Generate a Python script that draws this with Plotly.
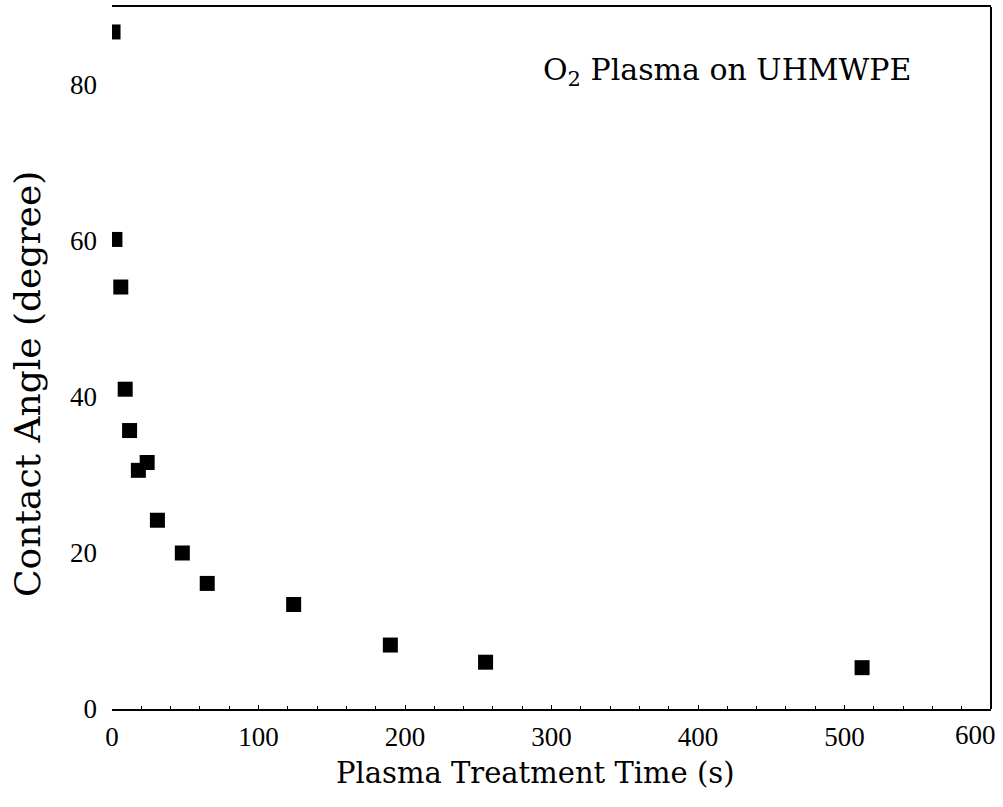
import plotly.graph_objects as go

time_s = [0.7, 2, 6, 9, 12, 18, 24, 31, 48, 65, 124, 190, 255, 512]
contact_angle = [86.8, 60.2, 54.1, 41.0, 35.7, 30.6, 31.6, 24.2, 20.0, 16.1, 13.4, 8.2, 6.0, 5.3]
x_ticks = [0, 100, 200, 300, 400, 500, 600]
y_ticks = [0, 20, 40, 60, 80]

TICKFONT = "Liberation Serif"
TITLEFONT = "DejaVu Serif"

L, R, T, B = 112, 991, 5, 709
W, H = 1003, 807
PW, PH = R - L, B - T

fig = go.Figure()
fig.add_trace(go.Scatter(
    x=time_s, y=contact_angle, mode="markers",
    marker=dict(symbol="square", size=15, color="black", line=dict(width=0)),
    cliponaxis=True, showlegend=False,
))

inner_ticks = x_ticks[:-1]
last_tick = x_ticks[-1]

fig.update_layout(
    width=W, height=H,
    margin=dict(l=L, r=W - R, t=T, b=H - B),
    paper_bgcolor="white", plot_bgcolor="white",
    font=dict(family=TICKFONT, color="black"),
    xaxis=dict(
        range=[x_ticks[0], last_tick], tickvals=inner_ticks,
        ticktext=[str(v) for v in inner_ticks],
        showgrid=False, zeroline=False,
        showline=True, linecolor="black", linewidth=2, mirror=True,
        ticks="inside", ticklen=4, tickcolor="black",
        minor=dict(ticks="inside", dtick=20, ticklen=3, tickcolor="black"),
        tickfont=dict(family=TICKFONT, size=27),
        ticklabelstandoff=3,
    ),
    yaxis=dict(
        range=[0, 90], tickvals=y_ticks, ticktext=[str(v) for v in y_ticks],
        showgrid=False, zeroline=False, showline=False,
        ticks="", tickfont=dict(family=TICKFONT, size=27),
        ticklabelstandoff=14,
    ),
    shapes=[dict(type="line", xref="paper", yref="paper", x0=1, x1=1, y0=0, y1=1,
                 line=dict(color="black", width=2))],
)

annotations = [
    dict(text="O<sub>2</sub> Plasma on UHMWPE", xref="paper", yref="paper",
         x=(727 - L) / PW, y=(B - 70) / PH, xanchor="center", yanchor="middle",
         showarrow=False, font=dict(family=TITLEFONT, size=30, color="black")),
    dict(text="Plasma Treatment Time (s)", xref="paper", yref="paper",
         x=(535 - L) / PW, y=(B - 773) / PH, xanchor="center", yanchor="middle",
         showarrow=False, font=dict(family=TITLEFONT, size=29, color="black")),
    dict(text="Contact Angle (degree)", xref="paper", yref="paper", textangle=-90,
         x=(28 - L) / PW, y=(B - 383) / PH, xanchor="center", yanchor="middle",
         showarrow=False, font=dict(family=TITLEFONT, size=36, color="black")),
    dict(text=str(last_tick), xref="x", yref="paper", x=last_tick, xshift=-16,
         y=(B - 735) / PH, xanchor="center", yanchor="middle",
         showarrow=False, font=dict(family=TICKFONT, size=27, color="black")),
]
fig.update_layout(annotations=annotations)

fig.write_html("out.html")
